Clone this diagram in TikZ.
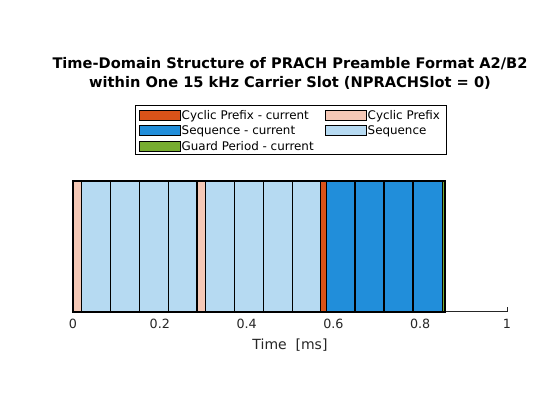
\documentclass[tikz,border=0pt]{standalone}
\usepackage{fontspec}
\setmainfont{DejaVu Sans}
\definecolor{cpcur}{RGB}{217,83,25}
\definecolor{seqcur}{RGB}{33,142,218}
\definecolor{gpcur}{RGB}{119,172,48}
\definecolor{cpold}{RGB}{245,200,182}
\definecolor{seqold}{RGB}{182,218,242}
\definecolor{axgray}{RGB}{38,38,38}
\begin{document}
\begin{tikzpicture}[x=1pt,y=-1pt,
  titletext/.style={font=\fontsize{14.6}{17}\selectfont\bfseries, anchor=base, inner sep=0},
  ticktext/.style={font=\fontsize{12.7}{15}\selectfont, text=axgray, anchor=base, inner sep=0},
  labeltext/.style={font=\fontsize{14}{17}\selectfont, text=axgray, anchor=base, inner sep=0},
  legtext/.style={font=\fontsize{11.9}{14}\selectfont, anchor=base west, inner sep=0},
  swatch/.style={draw=black, line width=0.8pt, minimum width=41pt, minimum height=10pt, inner sep=0, anchor=west},
  thinsep/.style={line width=0.9pt},
  thicksep/.style={line width=1.5pt}
]
\useasboundingbox (0,0) rectangle (560,420);
\fill[white] (0,0) rectangle (560,420);
% title
\node[titletext] (t1) at (290,69) {Time-Domain Structure of PRACH Preamble Format A2/B2};
\node[titletext] (t2) at (290,87.5) {within One 15 kHz Carrier Slot (NPRACHSlot = 0)};
% axis baseline and ticks
\draw[axgray, line width=0.5pt] (73,311.5) -- (507,311.5);
\foreach \t in {0,0.2,0.4,0.6,0.8,1}{
  \draw[axgray, line width=0.5pt] ({73+434*\t},311.5) -- ({73+434*\t},307);
}
% segments (time in ms -> x = 73 + 434 t)
\def\yt{181}
\def\yb{311.5}
\newcommand{\seg}[3]{\fill[#3] ({73+434*#1},\yt) rectangle ({73+434*#2},\yb);}
\seg{0}{0.01905}{cpold}
\seg{0.01905}{0.28571}{seqold}
\seg{0.28571}{0.30476}{cpold}
\seg{0.30476}{0.57143}{seqold}
\seg{0.57143}{0.58333}{cpcur}
\seg{0.58333}{0.85}{seqcur}
\seg{0.85}{0.85714}{gpcur}
% separators
\foreach \t in {0.01905,0.08571,0.15238,0.21905,0.30476,0.37143,0.43810,0.50476}{
  \draw[thinsep] ({73+434*\t},\yt) -- ({73+434*\t},\yb);
}
\foreach \t in {0.65,0.71667,0.78333}{
  \draw[thicksep] ({73+434*\t},\yt) -- ({73+434*\t},\yb);
}
\draw[line width=1.6pt] ({73+434*0.28571},\yt) -- ({73+434*0.28571},\yb);
\draw[line width=1.2pt] ({73+434*0.57143-0.3},\yt) -- ({73+434*0.57143-0.3},\yb);
\draw[line width=1pt] ({73+434*0.58333+0.3},\yt) -- ({73+434*0.58333+0.3},\yb);
\draw[line width=0.6pt] ({73+434*0.85},\yt) -- ({73+434*0.85},\yb);
\draw[line width=2pt] (73,\yt) rectangle ({73+434*0.85714},\yb);
% tick labels
\node[ticktext] (l0) at (73,328.7) {0};
\node[ticktext] (l2) at ({73+434*0.2},328.7) {0.2};
\node[ticktext] (l4) at ({73+434*0.4},328.7) {0.4};
\node[ticktext] (l6) at ({73+434*0.6},328.7) {0.6};
\node[ticktext] (l8) at ({73+434*0.8},328.7) {0.8};
\node[ticktext] (l10) at (507,328.7) {1};
\node[labeltext] (xl) at (290,349.5) {Time\ \ [ms]};
% legend
\draw[black, line width=0.6pt, fill=white] (135.5,105) rectangle (446,154);
\node[swatch, fill=cpcur] (s1) at (138.5,115) {};
\node[legtext] (e1) at (181.5,119.3) {Cyclic Prefix - current};
\node[swatch, fill=seqcur] (s2) at (138.5,130.5) {};
\node[legtext] (e2) at (181.5,134.8) {Sequence - current};
\node[swatch, fill=gpcur] (s3) at (138.5,146) {};
\node[legtext] (e3) at (181.5,150.3) {Guard Period - current};
\node[swatch, fill=cpold] (s4) at (324.5,115) {};
\node[legtext] (e4) at (367.5,119.3) {Cyclic Prefix};
\node[swatch, fill=seqold] (s5) at (324.5,130.5) {};
\node[legtext] (e5) at (367.5,134.8) {Sequence};
\end{tikzpicture}
\end{document}
